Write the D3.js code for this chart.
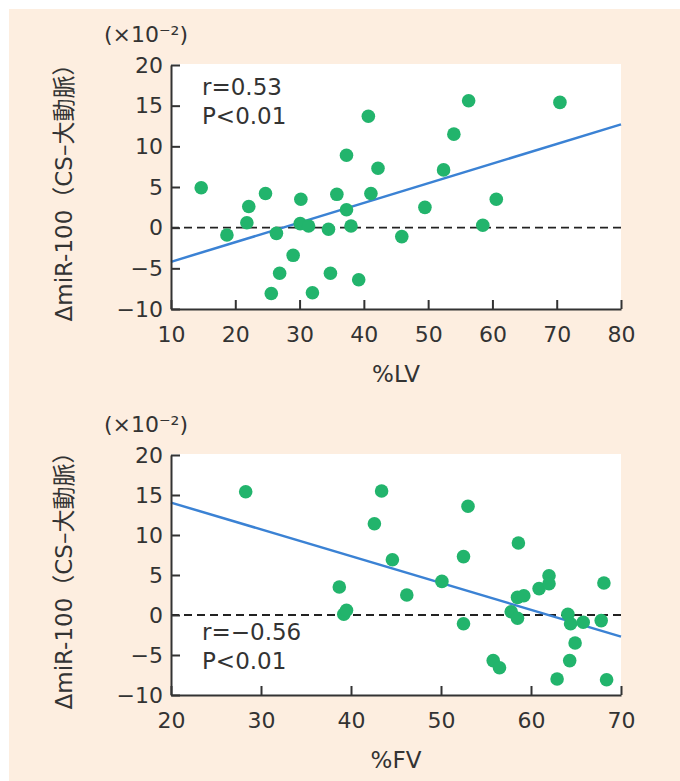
<!DOCTYPE html>
<html>
<head>
<meta charset="utf-8">
<script src="https://cdn.jsdelivr.net/npm/d3@7"></script>
<style>
  body { margin: 0; background: #fff; }
  text { font-family: "DejaVu Sans", "Noto Sans CJK JP", sans-serif; fill: #333; }
</style>
</head>
<body>
<svg id="chart" width="680" height="781"></svg>
<script>
// %LV vs ΔmiR-100
const lvX = [14.7, 18.7, 21.8, 22.1, 24.7, 26.4, 26.9, 25.6, 29.0, 30.2, 30.1, 31.4, 32.0, 34.5, 34.8, 35.8,
  37.3, 37.3, 38.0, 39.2, 40.7, 41.1, 42.2, 45.9, 49.5, 52.4, 54.0, 56.3, 58.5, 60.6, 70.5];
const lvY = [4.9, -0.9, 0.6, 2.6, 4.2, -0.7, -5.6, -8.1, -3.4, 3.5, 0.5, 0.2, -8.0, -0.2, -5.6, 4.1,
  8.9, 2.2, 0.2, -6.4, 13.7, 4.2, 7.3, -1.1, 2.5, 7.1, 11.5, 15.6, 0.3, 3.5, 15.4];
const lvFit = [[10, -4.2], [80, 12.7]];
const lvStats = ["r=0.53", "P<0.01"];
const lvTicks = [10, 20, 30, 40, 50, 60, 70, 80];

// %FV vs ΔmiR-100
const fvX = [28.3, 43.4, 42.6, 44.6, 38.7, 39.2, 39.5, 46.2, 50.1, 52.5, 53.0, 52.5, 58.6, 55.8, 56.5, 57.8,
  58.5, 58.5, 59.2, 60.9, 62.0, 62.0, 64.1, 64.4, 65.8, 64.9, 64.3, 62.9, 67.8, 68.1, 68.4];
const fvY = [15.4, 15.5, 11.4, 6.9, 3.5, 0.1, 0.6, 2.5, 4.2, 7.3, 13.6, -1.1, 9.0, -5.7, -6.6, 0.4,
  -0.4, 2.2, 2.4, 3.3, 4.9, 3.9, 0.1, -1.1, -0.9, -3.5, -5.7, -8.0, -0.7, 4.0, -8.1];
const fvFit = [[20, 14.05], [70, -2.7]];
const fvStats = ["r=\u22120.56", "P<0.01"];
const fvTicks = [20, 30, 40, 50, 60, 70];

const yTicks = [-10, -5, 0, 5, 10, 15, 20];
const yTitle = "ΔmiR-100（CS–大動脈）";
const yUnit = "(×10\u207B\u00B2)";

const svg = d3.select("#chart");

// peach background panel
svg.append("rect").attr("x", 9).attr("y", 9).attr("width", 671).attr("height", 772).attr("fill", "#fdeee0");

const fmt = d => d < 0 ? "\u2212" + Math.abs(d) : d;

function panel(xs, ys, fit, stats, xTicks, xTitle, box, statY) {
  const x = d3.scaleLinear().domain([xTicks[0], xTicks[xTicks.length - 1]]).range([box.left, box.right]);
  const y = d3.scaleLinear().domain([-10, 20]).range([box.bottom, box.top]);
  const g = svg.append("g");

  g.append("rect")
    .attr("x", box.left).attr("y", box.top - 1)
    .attr("width", box.right - box.left).attr("height", box.bottom - box.top + 1)
    .attr("fill", "#fff");

  // zero line
  g.append("line")
    .attr("x1", box.left).attr("x2", box.right)
    .attr("y1", y(0)).attr("y2", y(0))
    .attr("stroke", "#222").attr("stroke-width", 1.8).attr("stroke-dasharray", "8,5");

  // regression line
  g.append("line")
    .attr("x1", x(fit[0][0])).attr("y1", y(fit[0][1]))
    .attr("x2", x(fit[1][0])).attr("y2", y(fit[1][1]))
    .attr("stroke", "#3b82d4").attr("stroke-width", 2.5);

  g.selectAll("circle.pt")
    .data(xs.map((d, i) => [d, ys[i]]))
    .enter().append("circle")
    .attr("class", "pt")
    .attr("cx", d => x(d[0])).attr("cy", d => y(d[1]))
    .attr("r", 6.8)
    .attr("fill", "#22b46c");

  const ax = g.append("g")
    .attr("transform", "translate(0," + box.bottom + ")")
    .call(d3.axisBottom(x).tickValues(xTicks).tickSize(-9).tickSizeOuter(0).tickPadding(17).tickFormat(fmt));
  const ay = g.append("g")
    .attr("transform", "translate(" + box.left + ",0)")
    .call(d3.axisLeft(y).tickValues(yTicks).tickSize(-9).tickSizeOuter(0).tickPadding(8).tickFormat(fmt));

  [ax, ay].forEach(a => {
    a.selectAll("path.domain").attr("stroke", "#333").attr("stroke-width", 2);
    a.selectAll(".tick line").attr("stroke", "#333").attr("stroke-width", 2);
    a.selectAll(".tick text").attr("fill", "#333").style("font-size", "22px")
      .style("font-family", "'DejaVu Sans', sans-serif");
  });

  g.append("text")
    .attr("x", (box.left + box.right) / 2).attr("y", box.bottom + 73)
    .attr("text-anchor", "middle").style("font-size", "23px")
    .text(xTitle);

  g.append("text")
    .attr("transform", "translate(72," + (box.top + box.bottom) / 2 + ") rotate(-90)")
    .attr("text-anchor", "middle").style("font-size", "23px")
    .text(yTitle);

  g.append("text")
    .attr("x", 146).attr("y", box.top - 23)
    .attr("text-anchor", "middle").style("font-size", "22px")
    .text(yUnit);

  g.selectAll("text.stat")
    .data(stats)
    .enter().append("text")
    .attr("class", "stat")
    .attr("x", box.left + 31).attr("y", (d, i) => statY + i * 29)
    .style("font-size", "23px")
    .text(d => d);
}

panel(lvX, lvY, lvFit, lvStats, lvTicks, "%LV", { left: 171, right: 621, top: 65, bottom: 309 }, 95);
panel(fvX, fvY, fvFit, fvStats, fvTicks, "%FV", { left: 171, right: 621, top: 455, bottom: 695 }, 640);
</script>
</body>
</html>
